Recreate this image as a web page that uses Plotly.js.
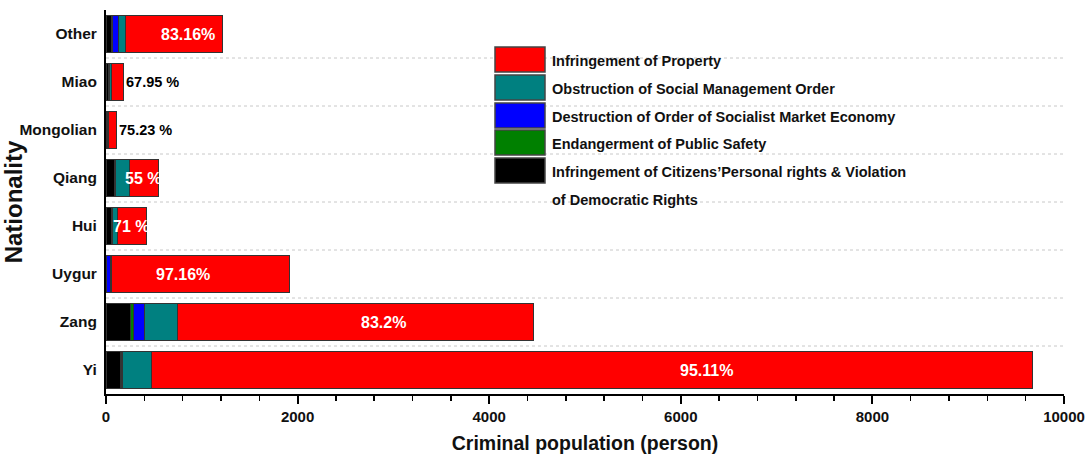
<!DOCTYPE html>
<html>
<head>
<meta charset="utf-8">
<script src="https://cdn.plot.ly/plotly-3.0.1.min.js"></script>
<style>html,body{margin:0;padding:0;background:#fff;}#chart{width:1090px;height:459px;}</style>
</head>
<body>
<div id="chart"></div>
<script>
// ---- data ----
const categories = ['Yi', 'Zang', 'Uygur', 'Hui', 'Qiang', 'Mongolian', 'Miao', 'Other'];
const citizensRights = [150, 260, 5, 60, 85, 10, 25, 62];
const publicSafety = [12, 28, 3, 3, 5, 3, 3, 8];
const marketEconomy = [15, 112, 40, 3, 14, 4, 5, 60];
const socialOrder = [296, 350, 6, 54, 140, 10, 25, 72];
const property = [9203, 3713, 1861, 300, 300, 80, 122, 1013];
const pctLabels = ['95.11%', '83.2%', '97.16%', '71 %', '55 %', '75.23 %', '67.95 %', '83.16%'];
const seriesNames = [
  'Infringement of Citizens\u2019Personal rights & Violation<br>of Democratic Rights',
  'Endangerment of Public Safety',
  'Destruction of Order of Socialist Market Economy',
  'Obstruction of Social Management Order',
  'Infringement of Property'
];

// ---- styling / layout ----
const colors = ['#000000', '#008000', '#0000FF', '#008080', '#FF0000'];
const seriesData = [citizensRights, publicSafety, marketEconomy, socialOrder, property];
const FONT = 'Liberation Sans, Arial, sans-serif';
// label placement (x in data units) for inside labels; null => outside the bar end
const labelX = [6270, 2900, 805, 260, 386, null, null, 856];

const traces = seriesData.map((vals, i) => ({
  type: 'bar',
  orientation: 'h',
  y: categories,
  x: vals,
  name: seriesNames[i],
  marker: {color: colors[i], line: {color: '#333333', width: 1}},
  width: 0.79,
  hoverinfo: 'x+y'
}));

const totals = categories.map((c, j) => seriesData.reduce((s, a) => s + a[j], 0));

const annotations = [];
categories.forEach((c, j) => {
  const inside = labelX[j] !== null;
  annotations.push({
    x: inside ? labelX[j] : totals[j],
    y: c,
    xref: 'x', yref: 'y',
    text: '<b>' + pctLabels[j] + '</b>',
    showarrow: false,
    xanchor: inside ? 'center' : 'left',
    yanchor: 'middle',
    xshift: inside ? 0 : 1,
    font: {family: FONT, size: inside ? 16 : 14.5, color: inside ? '#ffffff' : '#000000'}
  });
});

// plot area in px
const L = 106, R = 1064, T = 10, B = 394;
const px = x => (x - L) / (R - L);
const py = y => (B - y) / (B - T);

const shapes = [];
// dotted separators between categories
for (let k = 0; k < categories.length - 1; k++) {
  shapes.push({type: 'line', xref: 'paper', yref: 'y', x0: 0, x1: 1, y0: k + 0.5, y1: k + 0.5,
    line: {color: '#c8c8c8', width: 1, dash: 'dot'}, layer: 'below'});
}

// custom legend
const legendOrder = [4, 3, 2, 1, 0];
const rowTop = [47, 75, 103, 130, 158];
legendOrder.forEach((si, r) => {
  shapes.push({type: 'rect', xref: 'paper', yref: 'paper',
    x0: px(495), x1: px(545), y0: py(rowTop[r]), y1: py(rowTop[r] + 25),
    fillcolor: colors[si], line: {color: '#444444', width: 1.5}});
  annotations.push({xref: 'paper', yref: 'paper', x: px(550), y: py(rowTop[r] + 14),
    xanchor: 'left', yanchor: 'middle', showarrow: false, align: 'left',
    text: '<b>' + seriesNames[si].split('<br>')[0] + '</b>',
    font: {family: FONT, size: 14.5, color: '#111'}});
  if (seriesNames[si].indexOf('<br>') >= 0) {
    annotations.push({xref: 'paper', yref: 'paper', x: px(550), y: py(rowTop[r] + 42),
      xanchor: 'left', yanchor: 'middle', showarrow: false, align: 'left',
      text: '<b>' + seriesNames[si].split('<br>')[1] + '</b>',
      font: {family: FONT, size: 14.5, color: '#111'}});
  }
});

const layout = {
  width: 1090, height: 459,
  margin: {l: L, r: 1090 - R, t: T, b: 459 - B},
  barmode: 'stack',
  showlegend: false,
  paper_bgcolor: '#ffffff',
  plot_bgcolor: '#ffffff',
  font: {family: FONT, color: '#000'},
  xaxis: {
    range: [0, 10000],
    dtick: 2000,
    tick0: 0,
    tickformat: 'd',
    showgrid: false,
    zeroline: false,
    showline: true, linecolor: '#000', linewidth: 2,
    ticks: 'outside', ticklen: 8, tickwidth: 2, tickcolor: '#000',
    minor: {dtick: 400, ticks: 'outside', ticklen: 5, tickwidth: 1.5, tickcolor: '#000', showgrid: false},
    tickfont: {family: FONT, size: 15, color: '#111'},
    tickprefix: '<b>', ticksuffix: '</b>',
    title: {text: '<b>Criminal population (person)</b>', font: {family: FONT, size: 19.5, color: '#111'}, standoff: 12}
  },
  yaxis: {
    type: 'category',
    categoryorder: 'array',
    categoryarray: categories,
    range: [-0.5, categories.length - 0.5],
    showgrid: false,
    zeroline: false,
    showline: true, linecolor: '#000', linewidth: 2,
    ticks: '',
    ticklabelstandoff: 4,
    tickfont: {family: FONT, size: 15.5, color: '#111'},
    tickprefix: '<b>', ticksuffix: '</b>',
    title: {text: '<b>Nationality</b>', font: {family: FONT, size: 24, color: '#111'}, standoff: 6}
  },
  annotations: annotations,
  shapes: shapes
};

Plotly.newPlot('chart', traces, layout, {displayModeBar: false, staticPlot: true});
</script>
</body>
</html>
